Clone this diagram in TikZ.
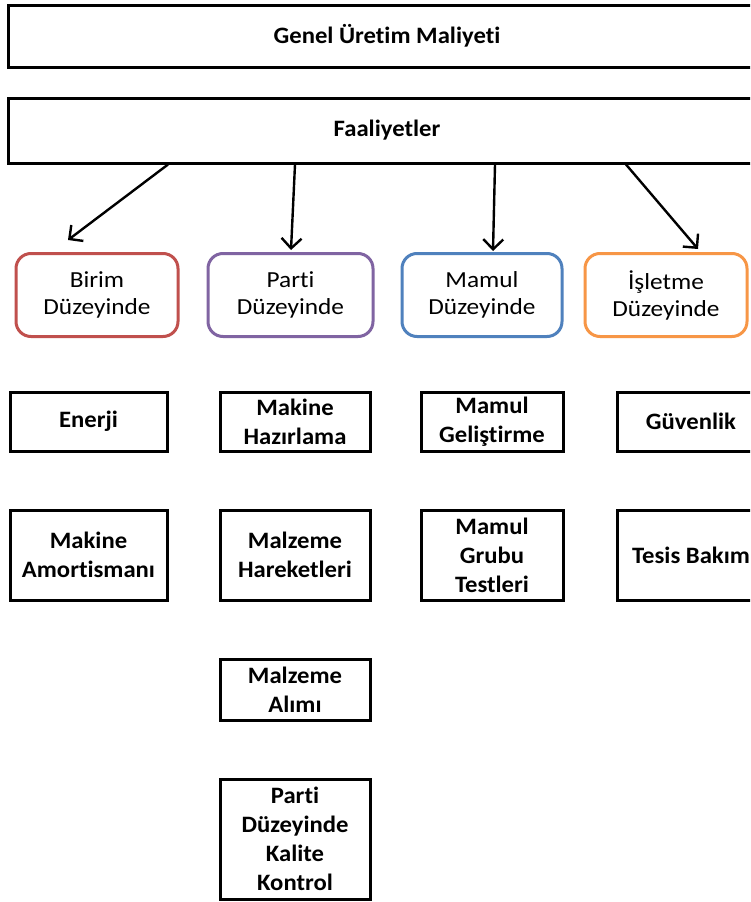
\documentclass[tikz,border=0pt]{standalone}
\usepackage{fontspec}
\setmainfont{Carlito}[FakeStretch=1.1,Ligatures=NoCommon]
\newfontfamily\boldf{Carlito}[FakeStretch=1.05,UprightFont=* Bold,Ligatures=NoCommon]
\usetikzlibrary{arrows.meta,calc}
\definecolor{cred}{HTML}{C0504D}
\definecolor{cpurple}{HTML}{8064A2}
\definecolor{cblue}{HTML}{4F81BD}
\definecolor{corange}{HTML}{F79646}
\begin{document}
\begin{tikzpicture}[x=1pt,y=-1pt,
  box/.style={draw=black,line width=3pt,rectangle,align=center,inner sep=0pt,
    font=\boldf\fontsize{23.5}{29}\selectfont},
  lvl/.style={draw=#1,line width=3pt,rounded corners=15pt,rectangle,align=center,inner sep=0pt,
    minimum width=162pt,minimum height=83pt,font=\fontsize{23}{27}\selectfont},
  arr/.style={draw=black,line width=2.4pt,-{Straight Barb[length=10pt,width=20pt]}}]
\useasboundingbox (0,0) rectangle (750,902);
\begin{scope}
\clip (0,0) rectangle (750,902);
\fill[white] (0,0) rectangle (750,902);
% top
\node[box,minimum width=758pt,minimum height=62pt] (gum) at (387,36) {Genel Üretim Maliyeti};
\node[box,minimum width=758pt,minimum height=65pt] (fa) at (387,130.5) {Faaliyetler};
% levels
\node[lvl=cred,minimum width=162pt] (birim) at (97,295) {Birim\\Düzeyinde};
\node[lvl=cpurple,minimum width=165pt] (parti) at (290.5,295) {Parti\\Düzeyinde};
\node[lvl=cblue,minimum width=160pt] (mamul) at (482,295) {Mamul\\Düzeyinde};
\node[lvl=corange,minimum width=162pt] (isl) at (666,295) {İşletme\\Düzeyinde};
% arrows
\coordinate (s1) at (168,0); \coordinate (s2) at (295,0);
\coordinate (s3) at (495,0); \coordinate (s4) at (626,0);
\coordinate (e1) at (68,240); \coordinate (e2) at (291,250);
\coordinate (e3) at (493,251); \coordinate (e4) at (698,249);
\draw[arr] (fa.south -| s1) -- (e1);
\draw[arr] (fa.south -| s2) -- (e2);
\draw[arr] (fa.south -| s3) -- (e3);
\draw[arr] (fa.south -| s4) -- (e4);
% row 1
\node[box,minimum width=157pt,minimum height=59pt] (enerji) at (88.5,421.5) {Enerji};
\node[box,minimum width=150pt,minimum height=59pt] (mh) at (295,421.5) {Makine\\Hazırlama};
\node[box,minimum width=142pt,minimum height=59pt] (mg) at (492,421.5) {Mamul\\Geliştirme};
\node[box,minimum width=148pt,minimum height=59pt] (guv) at (691,421.5) {Güvenlik};
% row 2
\node[box,minimum width=157pt,minimum height=90pt] (ma) at (88.5,555) {Makine\\Amortismanı};
\node[box,minimum width=150pt,minimum height=90pt] (mzh) at (295,555) {Malzeme\\Hareketleri};
\node[box,minimum width=142pt,minimum height=90pt] (mgt) at (492,555) {Mamul\\Grubu\\Testleri};
\node[box,minimum width=148pt,minimum height=90pt] (tb) at (691,555) {Tesis Bakım};
% row 3, 4
\node[box,minimum width=150pt,minimum height=61pt] (mza) at (295,689.5) {Malzeme\\Alımı};
\node[box,minimum width=150pt,minimum height=120pt] (pdk) at (295,839) {Parti\\Düzeyinde\\Kalite\\Kontrol};
\end{scope}
\end{tikzpicture}
\end{document}
